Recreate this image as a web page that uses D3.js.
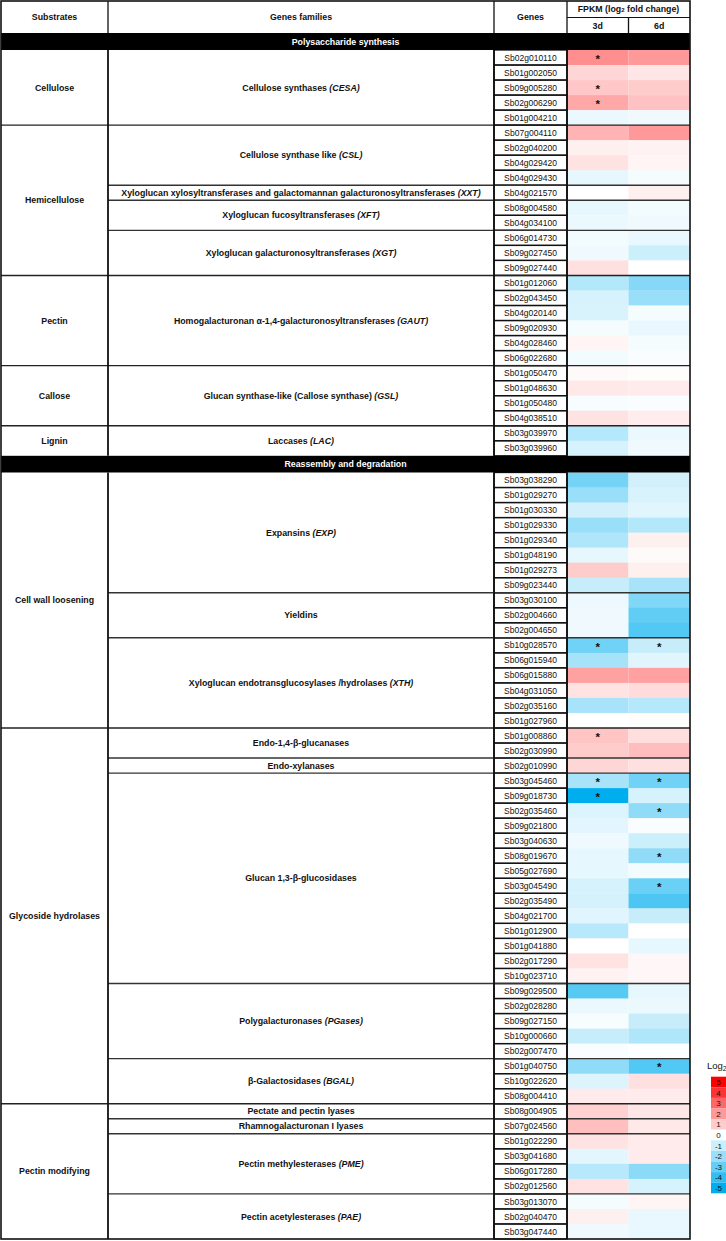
<!DOCTYPE html>
<html>
<head>
<meta charset="utf-8">
<script src="https://cdn.jsdelivr.net/npm/d3@7"></script>
<style>
  html, body { margin: 0; padding: 0; background: #fff; }
  svg { display: block; }
  text { font-family: "Liberation Sans", Arial, Helvetica, sans-serif; fill: #111; }
</style>
</head>
<body>
<svg id="chart" width="726" height="1241"></svg>
<script>
// ---------------- DATA ----------------
const sections = ["Polysaccharide synthesis", "Reassembly and degradation"];
const substrateNames = ["Cellulose", "Hemicellulose", "Pectin", "Callose", "Lignin",
  "Cell wall loosening", "Glycoside hydrolases", "Pectin modifying"];
const substrateSection = [0, 0, 0, 0, 0, 1, 1, 1];

// family label: [plain part, italic part]
const familyNames = [
  ["Cellulose synthases ", "(CESA)"],
  ["Cellulose synthase like ", "(CSL)"],
  ["Xyloglucan xylosyltransferases and galactomannan galacturonosyltransferases ", "(XXT)"],
  ["Xyloglucan fucosyltransferases ", "(XFT)"],
  ["Xyloglucan galacturonosyltransferases ", "(XGT)"],
  ["Homogalacturonan \u03b1-1,4-galacturonosyltransferases ", "(GAUT)"],
  ["Glucan synthase-like (Callose synthase) ", "(GSL)"],
  ["Laccases ", "(LAC)"],
  ["Expansins ", "(EXP)"],
  ["Yieldins", ""],
  ["Xyloglucan endotransglucosylases /hydrolases ", "(XTH)"],
  ["Endo-1,4-\u03b2-glucanases", ""],
  ["Endo-xylanases", ""],
  ["Glucan 1,3-\u03b2-glucosidases", ""],
  ["Polygalacturonases ", "(PGases)"],
  ["\u03b2-Galactosidases ", "(BGAL)"],
  ["Pectate and pectin lyases", ""],
  ["Rhamnogalacturonan I lyases", ""],
  ["Pectin methylesterases ", "(PME)"],
  ["Pectin acetylesterases ", "(PAE)"]
];
const familySubstrate = [0, 1, 1, 1, 1, 2, 3, 4, 5, 5, 5, 6, 6, 6, 6, 6, 7, 7, 7, 7];
const familySize      = [5, 4, 1, 2, 3, 6, 4, 2, 8, 3, 6, 2, 1, 14, 5, 3, 1, 1, 4, 3];

const genes = [
  "Sb02g010110","Sb01g002050","Sb09g005280","Sb02g006290","Sb01g004210",
  "Sb07g004110","Sb02g040200","Sb04g029420","Sb04g029430",
  "Sb04g021570",
  "Sb08g004580","Sb04g034100",
  "Sb06g014730","Sb09g027450","Sb09g027440",
  "Sb01g012060","Sb02g043450","Sb04g020140","Sb09g020930","Sb04g028460","Sb06g022680",
  "Sb01g050470","Sb01g048630","Sb01g050480","Sb04g038510",
  "Sb03g039970","Sb03g039960",
  "Sb03g038290","Sb01g029270","Sb01g030330","Sb01g029330","Sb01g029340","Sb01g048190","Sb01g029273","Sb09g023440",
  "Sb03g030100","Sb02g004660","Sb02g004650",
  "Sb10g028570","Sb06g015940","Sb06g015880","Sb04g031050","Sb02g035160","Sb01g027960",
  "Sb01g008860","Sb02g030990",
  "Sb02g010990",
  "Sb03g045460","Sb09g018730","Sb02g035460","Sb09g021800","Sb03g040630","Sb08g019670","Sb05g027690",
  "Sb03g045490","Sb02g035490","Sb04g021700","Sb01g012900","Sb01g041880","Sb02g017290","Sb10g023710",
  "Sb09g029500","Sb02g028280","Sb09g027150","Sb10g000660","Sb02g007470",
  "Sb01g040750","Sb10g022620","Sb08g004410",
  "Sb08g004905",
  "Sb07g024560",
  "Sb01g022290","Sb03g041680","Sb06g017280","Sb02g012560",
  "Sb03g013070","Sb02g040470","Sb03g047440"
];

// log2 fold change at 3 days
const fc3d = [
  2.2, 0.8, 1.1, 1.7, -0.4,
  1.5, 0.3, 0.55, -0.5,
  0.0,
  -0.5, -0.4,
  -0.25, -0.3, 0.6,
  -1.5, -0.8, -0.75, -0.2, 0.2, -0.25,
  0.1, 0.45, -0.15, 0.55,
  -1.45, -0.8,
  -2.7, -2.0, -0.9, -2.0, -1.55, -0.5, 1.0, -1.1,
  -0.35, -0.3, -0.3,
  -2.8, -1.75, 1.85, 0.55, -1.7, 0.0,
  1.15, 1.0,
  0.8,
  -1.7, -5.0, -0.7, -0.55, -0.3, -0.5, -0.5,
  -0.8, -0.85, -0.6, -1.4, 0.0, 0.55, 0.25,
  -3.3, -0.4, -0.15, -1.1, -0.1,
  -2.2, -0.65, 0.4,
  0.9,
  1.25,
  0.55, -0.55, -1.4, 0.55,
  -0.2, 0.3, -0.3
];

// log2 fold change at 6 days
const fc6d = [
  2.0, 0.5, 1.0, 1.2, -0.3,
  2.0, 0.25, 0.2, -0.2,
  0.3,
  -0.25, -0.3,
  -0.45, -1.0, 0.0,
  -2.4, -2.0, -0.2, -0.45, -0.2, -0.1,
  0.05, 0.4, -0.1, 0.35,
  -0.4, -0.3,
  -0.9, -0.75, -0.6, -1.5, 0.3, 0.1, 0.3, -1.7,
  -2.5, -3.1, -3.4,
  -1.1, -0.6, 1.85, 0.7, -1.45, 0.05,
  0.65, 1.3,
  0.6,
  -2.8, -0.8, -2.2, -0.1, -1.0, -2.2, -0.25,
  -2.9, -3.5, -1.1, 0.0, -0.5, 0.15, 0.15,
  -0.5, -0.4, -1.1, -1.55, -0.05,
  -3.4, 0.6, 0.4,
  0.5,
  0.45,
  0.4, 0.4, -2.3, -0.8,
  0.2, -0.45, -0.45
];

const sig3d = ["Sb02g010110", "Sb09g005280", "Sb02g006290", "Sb10g028570",
  "Sb01g008860", "Sb03g045460", "Sb09g018730"];
const sig6d = ["Sb10g028570", "Sb03g045460", "Sb02g035460", "Sb08g019670",
  "Sb03g045490", "Sb01g040750"];

const timePoints = ["3d", "6d"];
const legendValues = [5, 4, 3, 2, 1, 0, -1, -2, -3, -4, -5];

// ---------------- LAYOUT ----------------
const svg = d3.select("#chart");
const X0 = 1, XSUB = 108, XFAM = 494, XGEN = 567, XEND = 690;
const Y0 = 1, YH1 = 17.5, YH2 = 33;
const band1 = [33, 50], band2 = [455.8, 472.5];
const nSec0 = genes.length - 51;           // 27 rows in first section
const ySec0 = d3.scaleLinear().domain([0, nSec0]).range([band1[1], band2[0]]);
const ySec1 = d3.scaleLinear().domain([0, genes.length - nSec0]).range([band2[1], 1239]);
const yTop = i => (i < nSec0 ? ySec0(i) : ySec1(i - nSec0));
const yBot = i => (i < nSec0 ? ySec0(i + 1) : ySec1(i - nSec0 + 1));

const xCol = d3.scaleBand().domain(timePoints).range([XGEN, XEND]);
const color = d3.scaleLinear().domain([-5, 0, 5]).range(["#00aeef", "#ffffff", "#ff0000"]).clamp(true);

const FS = 8.8;     // bold labels
const FSG = 8.5;    // gene labels

// ---------- heatmap cells ----------
const cells = [];
genes.forEach((g, i) => {
  cells.push({ g, i, t: "3d", v: fc3d[i], s: sig3d.includes(g) });
  cells.push({ g, i, t: "6d", v: fc6d[i], s: sig6d.includes(g) });
});
svg.append("g").selectAll("rect").data(cells).join("rect")
  .attr("x", d => xCol(d.t))
  .attr("y", d => yTop(d.i))
  .attr("width", xCol.bandwidth())
  .attr("height", d => yBot(d.i) - yTop(d.i) + 0.3)
  .attr("fill", d => color(d.v));

svg.append("g").selectAll("text").data(cells.filter(d => d.s)).join("text")
  .attr("x", d => xCol(d.t) + xCol.bandwidth() / 2)
  .attr("y", d => (yTop(d.i) + yBot(d.i)) / 2 + 5.2)
  .attr("text-anchor", "middle")
  .attr("font-size", 11.5).attr("font-weight", "bold")
  .text("*");

// ---------- gene boxes ----------
const gg = svg.append("g");
genes.forEach((g, i) => {
  gg.append("rect").attr("x", XFAM).attr("y", yTop(i))
    .attr("width", XGEN - XFAM).attr("height", yBot(i) - yTop(i))
    .attr("fill", "none").attr("stroke", "#111").attr("stroke-width", 1.3);
  gg.append("text").attr("x", (XFAM + XGEN) / 2).attr("y", (yTop(i) + yBot(i)) / 2 + 3.1)
    .attr("text-anchor", "middle").attr("font-size", FSG).text(g);
});

// ---------- header ----------
const hd = svg.append("g");
hd.append("text").attr("x", (X0 + XSUB) / 2).attr("y", 20).attr("text-anchor", "middle")
  .attr("font-size", FS).attr("font-weight", "bold").text("Substrates");
hd.append("text").attr("x", (XSUB + XFAM) / 2).attr("y", 20).attr("text-anchor", "middle")
  .attr("font-size", FS).attr("font-weight", "bold").text("Genes families");
hd.append("text").attr("x", (XFAM + XGEN) / 2).attr("y", 20).attr("text-anchor", "middle")
  .attr("font-size", FS).attr("font-weight", "bold").text("Genes");
const fp = hd.append("text").attr("x", (XGEN + XEND) / 2).attr("y", 12.3).attr("text-anchor", "middle")
  .attr("font-size", FS).attr("font-weight", "bold");
fp.append("tspan").text("FPKM (log");
fp.append("tspan").attr("font-size", 6).text("2");
fp.append("tspan").text(" fold change)");
timePoints.forEach(t => {
  hd.append("text").attr("x", xCol(t) + xCol.bandwidth() / 2).attr("y", 28.5).attr("text-anchor", "middle")
    .attr("font-size", FS).attr("font-weight", "bold").text(t);
});

// ---------- section bands ----------
[band1, band2].forEach((b, k) => {
  svg.append("rect").attr("x", X0).attr("y", b[0]).attr("width", XEND - X0).attr("height", b[1] - b[0])
    .attr("fill", "#000");
  svg.append("text").attr("x", (X0 + XEND) / 2).attr("y", (b[0] + b[1]) / 2 + 3.2)
    .attr("text-anchor", "middle").attr("font-size", FS).attr("font-weight", "bold")
    .style("fill", "#fff").text(sections[k]);
});

// ---------- families & substrates ----------
const lines = svg.append("g").attr("stroke", "#222");
let start = 0;
const famStart = [];
familySize.forEach(n => { famStart.push(start); start += n; });

familyNames.forEach((fn, f) => {
  const a = famStart[f], b = a + familySize[f] - 1;
  const yc = (yTop(a) + yBot(b)) / 2;
  const t = svg.append("text").attr("x", (XSUB + XFAM) / 2).attr("y", yc + 3.1)
    .attr("text-anchor", "middle").attr("font-size", FS).attr("font-weight", "bold");
  t.append("tspan").text(fn[0]);
  if (fn[1]) t.append("tspan").attr("font-style", "italic").text(fn[1]);
  if (b !== nSec0 - 1 && b !== genes.length - 1) {
    const nextSub = familySubstrate[f + 1] !== familySubstrate[f];
    lines.append("line").attr("x1", nextSub ? X0 : XSUB).attr("x2", XEND)
      .attr("y1", yBot(b)).attr("y2", yBot(b))
      .attr("stroke-width", 1.4).attr("stroke", nextSub ? "#222" : "#333");
  }
});

substrateNames.forEach((s, k) => {
  const fams = familySubstrate.map((v, f) => v === k ? f : -1).filter(f => f >= 0);
  const a = famStart[fams[0]];
  const lf = fams[fams.length - 1];
  const b = famStart[lf] + familySize[lf] - 1;
  svg.append("text").attr("x", (X0 + XSUB) / 2).attr("y", (yTop(a) + yBot(b)) / 2 + 3.1)
    .attr("text-anchor", "middle").attr("font-size", FS).attr("font-weight", "bold").text(s);
});

// vertical rules
[[XSUB, band1[1], band2[0]], [XSUB, band2[1], 1239],
 [XFAM, band1[1], band2[0]], [XFAM, band2[1], 1239],
 [XGEN, band1[1], band2[0]], [XGEN, band2[1], 1239]].forEach(v => {
  lines.append("line").attr("x1", v[0]).attr("x2", v[0]).attr("y1", v[1]).attr("y2", v[2])
    .attr("stroke-width", 1.8).attr("stroke", "#111");
});
// header rules
[[XSUB, Y0, YH2], [XFAM, Y0, YH2], [XGEN, Y0, YH2], [XGEN + xCol.bandwidth(), YH1, YH2]].forEach(v => {
  lines.append("line").attr("x1", v[0]).attr("x2", v[0]).attr("y1", v[1]).attr("y2", v[2])
    .attr("stroke-width", 1.3).attr("stroke", "#111");
});
lines.append("line").attr("x1", XGEN).attr("x2", XEND).attr("y1", YH1).attr("y2", YH1)
  .attr("stroke-width", 1.2).attr("stroke", "#111");

// outer border
svg.append("rect").attr("x", X0).attr("y", Y0).attr("width", XEND - X0).attr("height", 1239 - Y0)
  .attr("fill", "none").attr("stroke", "#111").attr("stroke-width", 1.6);

// ---------- legend ----------
const lg = svg.append("g");
const lt = lg.append("text").attr("x", 707).attr("y", 1069).attr("font-size", 9.5);
lt.append("tspan").text("Log");
lt.append("tspan").attr("font-size", 7).attr("dy", 1.5).text("2");
const yLeg = d3.scaleBand().domain(legendValues).range([1076.7, 1076.7 + 10.6 * legendValues.length]);
lg.selectAll("rect").data(legendValues).join("rect")
  .attr("x", 711).attr("y", d => yLeg(d)).attr("width", 16).attr("height", yLeg.bandwidth())
  .attr("fill", d => color(d));
lg.selectAll("text.lv").data(legendValues).join("text").attr("class", "lv")
  .attr("x", 718.5).attr("y", d => yLeg(d) + yLeg.bandwidth() / 2 + 3)
  .attr("text-anchor", "middle").attr("font-size", 8).text(d => d);
</script>
</body>
</html>
